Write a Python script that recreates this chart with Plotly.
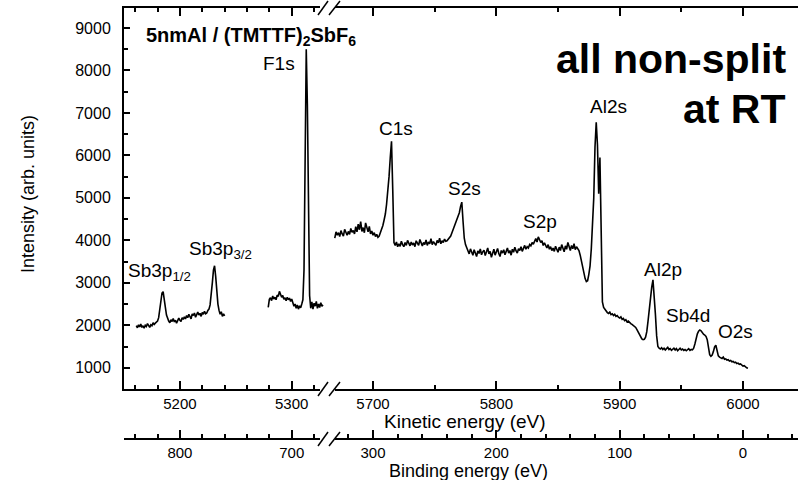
import numpy as np
import plotly.graph_objects as go

# ---------------- data ----------------
HV = 6000  # binding energy = HV - kinetic energy

# Segment A (Sb3p region), kinetic energy grid starts at 5161 eV, 1 eV steps
ke_a_start = 5161
int_a = [1990, 1940, 2010, 1960, 2030, 1950, 1990, 1930, 2000, 1970,
         2040, 1980, 1950, 2010, 1990, 2060, 2020, 2050, 2080, 2100,
         2180, 2350, 2580, 2760, 2790, 2650, 2420, 2240, 2150, 2100,
         2060, 2130, 2090, 2160, 2080, 2120, 2050, 2110, 2170, 2120,
         2090, 2180, 2140, 2200, 2150,
         2230, 2180, 2260, 2200, 2150, 2270, 2230, 2290, 2190, 2250,
         2310, 2240, 2280, 2210, 2300, 2260, 2330, 2270, 2290, 2350,
         2380, 2480, 2700, 3000, 3300, 3400, 3150, 2800, 2500, 2350,
         2260, 2320, 2210, 2270, 2220]

# Segment B (F1s region)
ke_b_start = 5279
int_b = [2420, 2610, 2650, 2580, 2690, 2620, 2660, 2600, 2710, 2680,
         2800, 2740, 2660, 2700, 2610, 2650, 2580, 2660, 2600, 2640,
         2560, 2620, 2520, 2450, 2500, 2400, 2480, 2380, 2460, 2410,
         2500, 2600, 3300, 6000, 8500, 7200, 4000, 2700, 2400, 2550,
         2380, 2520, 2450, 2560, 2400, 2500, 2420, 2530, 2450, 2480]

# Segment C (valence / shallow core region)
ke_c_start = 5669
int_c = [4050, 4200, 4120, 4180, 4090, 4230, 4150, 4100, 4260, 4170,
         4120, 4210, 4140, 4280, 4190, 4230, 4150, 4320, 4200, 4380,
         4250, 4440, 4210, 4300, 4180, 4410, 4260, 4200, 4330, 4150,
         4220, 4120, 4180, 4090, 4140, 4070,
         4100, 4180, 4260, 4350, 4480, 4620, 4850, 5150, 5500, 5950,
         6330, 5200, 3950, 3880, 3960, 3850,
         3920, 3860, 3980, 3900, 3850, 3950, 3880, 4000, 3910, 3870,
         3960, 3890, 3940, 3850, 3990, 3920, 3880, 4020, 3930, 3870,
         3950, 3900, 4010, 3880, 3960, 3920, 4040, 3900, 3970, 3930,
         3880, 4000, 3940, 4050, 3920, 3990, 3950, 4030, 3980, 3990,
         4020, 4050, 4100, 4180, 4260, 4350, 4430, 4480, 4560, 4650,
         4800, 4900, 4450, 4050, 3900, 3820,
         3760, 3680, 3800, 3700, 3650, 3780, 3720, 3620, 3750, 3690,
         3800, 3660, 3730, 3770, 3640, 3710, 3820, 3680, 3740, 3600,
         3700, 3790, 3650, 3730, 3810, 3690, 3620, 3760, 3700, 3780,
         3660, 3740, 3820, 3700, 3760, 3650, 3790, 3720, 3840, 3750,
         3700, 3800, 3760, 3850, 3740, 3810, 3880, 3790,
         3850, 3820, 3900, 3870, 3950, 3910, 3990, 4040, 3960, 4080,
         4020, 3950, 3990, 3880, 3940, 3860, 3820, 3900, 3790, 3850, 3760,
         3820, 3740, 3860, 3780, 3720, 3840, 3760, 3900, 3800, 3730,
         3870, 3790, 3950, 3820, 3760, 3880, 3800, 3920, 3780, 3850,
         3800, 3760,
         3650, 3500, 3350, 3200, 3100, 3030, 3050, 3200, 3400, 3800,
         4300, 5000, 6200, 6780, 6250, 5100, 5950, 4200, 2550, 2420,
         2370, 2330, 2300, 2280, 2310, 2250, 2270, 2230, 2260, 2210,
         2230, 2190, 2170, 2200, 2140, 2160, 2110, 2130, 2080, 2100,
         2060, 2040, 2020, 2000, 1980, 1950, 1900, 1840, 1780, 1720,
         1680, 1660, 1670, 1720, 1850,
         2100, 2400, 2650, 2900, 3070, 2750, 2250, 1750, 1500, 1460,
         1440, 1470, 1430, 1460, 1420, 1450, 1480, 1430, 1450, 1410,
         1440, 1460, 1420, 1450, 1400, 1430, 1460, 1420, 1440, 1410,
         1430, 1400, 1420, 1450, 1410, 1430, 1420,
         1460, 1560, 1700, 1800, 1860, 1890, 1870, 1820, 1790, 1770,
         1740, 1660, 1460, 1310, 1270, 1300, 1380, 1490, 1530, 1360,
         1280, 1250,
         1240, 1220, 1250, 1200, 1210, 1180, 1190, 1160, 1170, 1140,
         1150, 1120, 1130, 1100, 1110, 1080, 1090, 1060, 1040, 1050,
         1020, 1000, 990]

y_ticks = [1000, 2000, 3000, 4000, 5000, 6000, 7000, 8000, 9000]
ke_ticks_1 = [5200, 5300]
ke_ticks_2 = [5700, 5800, 5900, 6000]
be_ticks_1 = [800, 700]
be_ticks_2 = [300, 200, 100, 0]

# ---------------- layout geometry ----------------
W, H = 798, 480
L, R, T, B = 124, 0, 8, 41
PW, PH = W - L - R, H - T - B
FONT = "Liberation Sans, Arial, sans-serif"


def pp(x, y):
    """pixel -> paper coordinates"""
    return (x - L) / PW, (H - B - y) / PH


seg1_end = pp(331, 0)[0]
seg2_start = pp(334, 0)[0]
y_dom0 = pp(0, 389)[1]

ke1_range = [5150, 5150 + (331 - 124.2) / 1.117]
ke2_range = [5700 - (373 - 334) / 1.233, 6000 + (798 - 743) / 1.233]

ke_a = np.arange(ke_a_start, ke_a_start + len(int_a))
ke_b = np.arange(ke_b_start, ke_b_start + len(int_b))
ke_c = np.arange(ke_c_start, ke_c_start + len(int_c))

fig = go.Figure()
# binding-energy axes carry the same spectra (hidden) so the axes exist
fig.add_trace(go.Scatter(x=HV - np.concatenate([ke_a, ke_b]), y=int_a + int_b, mode="lines",
                         opacity=0, hoverinfo="skip", xaxis="x3", yaxis="y"))
fig.add_trace(go.Scatter(x=HV - ke_c, y=int_c, mode="lines", opacity=0, hoverinfo="skip",
                         xaxis="x4", yaxis="y"))
line = dict(color="black", width=1.6)
fig.add_trace(go.Scatter(x=ke_a, y=int_a, mode="lines", line=line, xaxis="x", yaxis="y"))
fig.add_trace(go.Scatter(x=ke_b, y=int_b, mode="lines", line=line, xaxis="x", yaxis="y"))
fig.add_trace(go.Scatter(x=ke_c, y=int_c, mode="lines", line=line, xaxis="x2", yaxis="y"))

tickfont = dict(family=FONT, size=16, color="black")
axis_common = dict(showline=True, linecolor="black", linewidth=2, showgrid=False,
                   zeroline=False, ticks="inside", tickcolor="black", tickwidth=1.5,
                   tickfont=tickfont, automargin=False)
xtickfont = dict(family=FONT, size=15, color="black")
minor_common = dict(ticks="inside", ticklen=4, tickcolor="black", tickwidth=1.5, showgrid=False)

fig.update_layout(
    width=W, height=H, margin=dict(l=L, r=R, t=T, b=B, autoexpand=False),
    paper_bgcolor="white", plot_bgcolor="rgba(0,0,0,0)", showlegend=False,
    font=dict(family=FONT, color="black"),
    yaxis=dict(axis_common, domain=[y_dom0, 1], range=[500, 9470], anchor="x",
               tickvals=y_ticks, ticklen=6, ticklabelstandoff=8,
               minor=dict(minor_common, dtick=500, tick0=0)),
    xaxis=dict(axis_common, domain=[0, seg1_end], range=ke1_range, anchor="y", mirror="ticks",
               tickvals=ke_ticks_1, ticklen=8, ticklabelstandoff=0, tickfont=xtickfont,
               minor=dict(minor_common, dtick=20, tick0=0)),
    xaxis2=dict(axis_common, domain=[seg2_start, 1], range=ke2_range, anchor="y", mirror="ticks",
                tickvals=ke_ticks_2, ticklen=8, ticklabelstandoff=0, tickfont=xtickfont,
                minor=dict(minor_common, dtick=50, tick0=0)),
    xaxis3=dict(axis_common, domain=[0, seg1_end], range=[HV - ke1_range[0], HV - ke1_range[1]],
                anchor="free", position=0, side="bottom", tickfont=xtickfont,
                tickvals=be_ticks_1, ticklen=8, ticklabelstandoff=0,
                minor=dict(minor_common, dtick=20, tick0=0)),
    xaxis4=dict(axis_common, domain=[seg2_start, 1], range=[HV - ke2_range[0], HV - ke2_range[1]],
                anchor="free", position=0, side="bottom", tickfont=xtickfont,
                tickvals=be_ticks_2, ticklen=8, ticklabelstandoff=0,
                minor=dict(minor_common, dtick=20, tick0=0)),
)

# ---------------- axis breaks ----------------
shapes = []
for yl in (8, 389, 439):
    x0, y0 = pp(320, yl + 2)
    x1, y1 = pp(335, yl - 2)
    shapes.append(dict(type="rect", xref="paper", yref="paper", x0=x0, y0=y0, x1=x1, y1=y1,
                       fillcolor="white", line=dict(width=0), layer="above"))
    for (xa, xb) in ((318, 328), (329, 340)):
        a = pp(xa, yl + 7)
        b = pp(xb, yl - 7)
        shapes.append(dict(type="line", xref="paper", yref="paper", x0=a[0], y0=a[1], x1=b[0], y1=b[1],
                           line=dict(color="black", width=1.5), layer="above"))
fig.update_layout(shapes=shapes)

# ---------------- text ----------------
annotations = []


def add_text(text, x, y, size, xanchor="center", yanchor="middle", bold=False, angle=0):
    px_, py_ = pp(x, y)
    annotations.append(dict(text=f"<b>{text}</b>" if bold else text, x=px_, y=py_,
                            xref="paper", yref="paper", xanchor=xanchor, yanchor=yanchor,
                            showarrow=False, textangle=angle,
                            font=dict(family=FONT, size=size, color="black")))


peak_labels = [
    ("F1s", 279, 63),
    ("C1s", 396, 128),
    ("S2s", 464, 188),
    ("S2p", 540, 222),
    ("Al2s", 608, 106),
    ("Al2p", 663, 269),
    ("Sb4d", 688, 315),
    ("O2s", 735, 331),
]
for t, x, y in peak_labels:
    add_text(t, x, y, 19)
add_text("Sb3p<sub>1/2</sub>", 126, 272, 19, xanchor="left")
add_text("Sb3p<sub>3/2</sub>", 187, 250, 19, xanchor="left")
add_text("5nmAl / (TMTTF)<sub>2</sub>SbF<sub>6</sub>", 144, 36, 20, xanchor="left", bold=True)
add_text("all non-split", 788, 59, 41, xanchor="right", bold=True)
add_text("at RT", 788, 109, 41, xanchor="right", bold=True)
add_text("Intensity (arb. units)", 28, 194, 18, angle=-90)
add_text("Kinetic energy (eV)", 465, 421, 19)
add_text("Binding energy (eV)", 468, 471, 18)
fig.update_layout(annotations=annotations)

fig.write_html("out.html", config={"displayModeBar": False},
               post_script="document.body.style.margin='0px';")
